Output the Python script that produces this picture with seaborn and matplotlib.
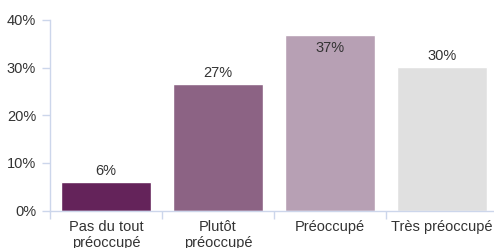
import matplotlib
matplotlib.use("Agg")
import matplotlib.pyplot as plt
from matplotlib.ticker import FixedLocator, PercentFormatter
import seaborn as sns
import pandas as pd

# data
categories = ["Pas du tout\npréoccupé", "Plutôt\npréoccupé", "Préoccupé", "Très préoccupé"]
values = [6.0, 26.5, 36.8, 30.1]
labels = ["6%", "27%", "37%", "30%"]
colors = ["#64235a", "#8c6384", "#b7a0b4", "#e0e0e0"]

axis_color = "#ccd6eb"
text_color = "#333333"

sns.set_style("white")
plt.rcParams["font.family"] = ["Liberation Sans", "DejaVu Sans"]

df = pd.DataFrame({"category": categories, "value": values})

fig = plt.figure(figsize=(4.94, 2.48), dpi=100)
ax = fig.add_axes([50 / 494, 37.5 / 248, 444 / 494, 190.5 / 248])

sns.barplot(data=df, x="category", y="value", hue="category",
            palette=colors, legend=False, width=0.8, saturation=1, ax=ax)

ax.set_ylim(0, 40)
ax.set_xlim(-0.5, -0.5 + 444 / 112)
ax.set_yticks([0, 10, 20, 30, 40])
ax.yaxis.set_major_formatter(PercentFormatter(decimals=0))
ax.set_xlabel("")
ax.set_ylabel("")

for s in ["top", "right"]:
    ax.spines[s].set_visible(False)
for s in ["left", "bottom"]:
    ax.spines[s].set_color(axis_color)
    ax.spines[s].set_linewidth(1)

ax.tick_params(axis="y", left=True, length=6, width=1, color=axis_color, pad=4,
               labelsize=10.5, labelcolor=text_color)
ax.tick_params(axis="x", which="major", bottom=True, length=0, pad=7,
               labelsize=10.5, labelcolor=text_color)
ax.xaxis.set_minor_locator(FixedLocator([-0.5, 0.5, 1.5, 2.5]))
ax.tick_params(axis="x", which="minor", bottom=True, length=6, width=1, color=axis_color)

# value labels, inside the bar when there is no room above it
for i, (v, lab) in enumerate(zip(values, labels)):
    if v > 34:
        ax.annotate(lab, (i, v), xytext=(0, -4), textcoords="offset points",
                    ha="center", va="top", fontsize=10.5, color=text_color)
    else:
        ax.annotate(lab, (i, v), xytext=(0, 3), textcoords="offset points",
                    ha="center", va="bottom", fontsize=10.5, color=text_color)

fig.savefig("out.png", dpi=100)
